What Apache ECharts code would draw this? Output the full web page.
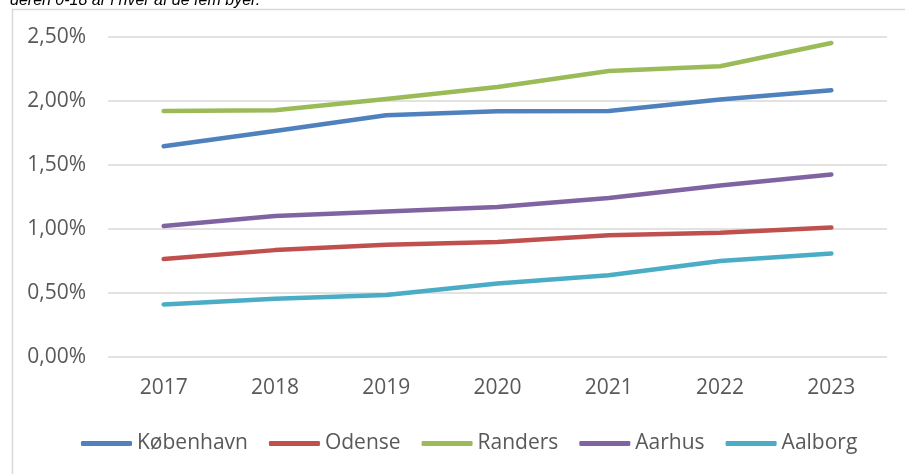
<!DOCTYPE html>
<html>
<head>
<meta charset="utf-8">
<script src="https://cdn.jsdelivr.net/npm/echarts@6/dist/echarts.min.js"></script>
<style>
html,body{margin:0;padding:0;background:#fff;}
#chart{width:905px;height:474px;}
</style>
</head>
<body>
<div id="chart"></div>
<script>
const years = ['2017','2018','2019','2020','2021','2022','2023'];
const seriesNames = ['København','Odense','Randers','Aarhus','Aalborg'];
const kobenhavn = [1.647, 1.765, 1.889, 1.919, 1.922, 2.011, 2.084];
const odense    = [0.765, 0.835, 0.877, 0.898, 0.951, 0.970, 1.011];
const randers   = [1.922, 1.927, 2.016, 2.110, 2.235, 2.272, 2.453];
const aarhus    = [1.024, 1.102, 1.136, 1.172, 1.243, 1.340, 1.426];
const aalborg   = [0.411, 0.455, 0.484, 0.574, 0.639, 0.750, 0.808];
const captionText = 'deren 0-18 år i hver af de fem byer.';

const values = [kobenhavn, odense, randers, aarhus, aalborg];
const colors = ['#4F81BD','#C0504D','#9BBB59','#8064A2','#4BACC6'];
const font = '"Open Sans", sans-serif';

const chart = echarts.init(document.getElementById('chart'), null, {renderer:'canvas'});
chart.setOption({
  animation: false,
  backgroundColor: '#ffffff',
  color: colors,
  graphic: [
    {type:'rect', left: 10, top: 7, shape:{x:0,y:0,width:1000,height:1000},
     style:{fill:'none', stroke:'#d9d9d9', lineWidth:1.5}, z: 0},
    {type:'text', left: 10, top: -7,
     style:{text: captionText, fill:'#000', font:'italic 16px "Liberation Sans", Arial, sans-serif'}, z: 10}
  ],
  grid: {left: 108, right: 18, top: 37, bottom: 117, containLabel: false},
  legend: {
    data: seriesNames,
    left: 76, top: 428,
    icon: 'roundRect',
    itemWidth: 51, itemHeight: 5,
    itemGap: 21,
    textStyle: {fontFamily: font, fontSize: 21, color: '#595959'}
  },
  xAxis: {
    type: 'category',
    data: years,
    boundaryGap: true,
    axisLine: {show: false},
    axisTick: {show: false},
    axisLabel: {fontFamily: font, fontSize: 21, color: '#595959', margin: 21}
  },
  yAxis: {
    type: 'value',
    min: 0, max: 2.5, interval: 0.5,
    axisLine: {show: false},
    axisTick: {show: false},
    splitLine: {lineStyle: {color: '#d9d9d9', width: 1.5}},
    axisLabel: {
      fontFamily: font, fontSize: 21, color: '#595959', margin: 22,
      formatter: v => v.toFixed(2).replace('.', ',') + '%'
    }
  },
  series: seriesNames.map((name, i) => ({
    name: name,
    type: 'line',
    data: values[i],
    symbol: 'none',
    smooth: false,
    lineStyle: {width: 4.5, color: colors[i], cap: 'round', join: 'round'},
    itemStyle: {color: colors[i]}
  }))
});
</script>
</body>
</html>
